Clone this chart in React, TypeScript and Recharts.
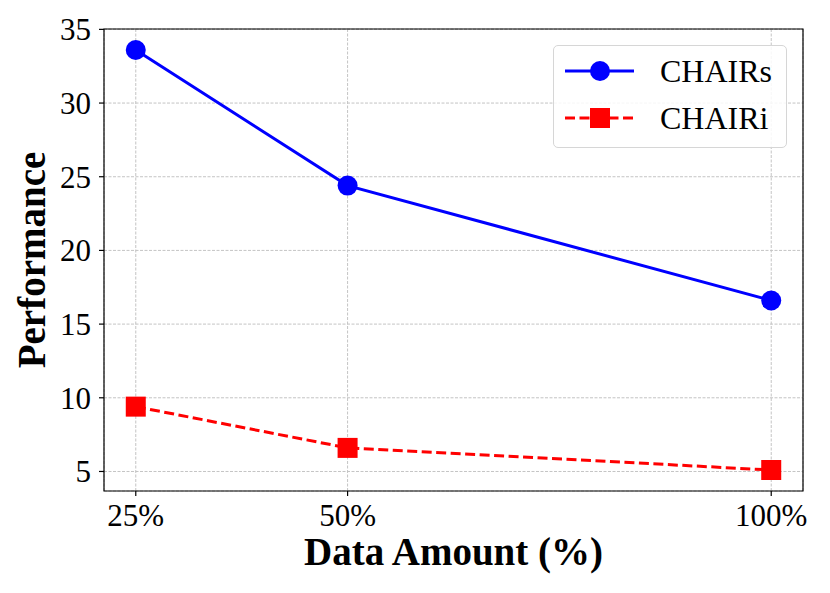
import React from 'react';
import {
  LineChart,
  Line,
  XAxis,
  YAxis,
  CartesianGrid,
  ReferenceArea,
  Label,
} from 'recharts';

const dataAmounts = [25, 50, 100];
const chairS = [33.6, 24.4, 16.6];
const chairI = [9.4, 6.6, 5.1];
const xTicks = [25, 50, 100];
const yTicks = [5, 10, 15, 20, 25, 30, 35];

const X_DOMAIN: [number, number] = [21.25, 103.75];
const Y_DOMAIN: [number, number] = [3.675, 35.025];

const FONT = '"Liberation Serif", "Times New Roman", serif';

const data = dataAmounts.map((x, i) => ({
  x,
  chairS: chairS[i],
  chairI: chairI[i],
}));

const CircleDot = (props: any) => {
  const { cx, cy } = props;
  if (cx == null || cy == null) return null;
  return <circle cx={cx} cy={cy} r={10} fill="#0000ff" />;
};

const SquareDot = (props: any) => {
  const { cx, cy } = props;
  if (cx == null || cy == null) return null;
  return <rect x={cx - 10} y={cy - 10} width={20} height={20} fill="#ff0000" />;
};

const LegendBox = () => (
  <div
    style={{
      position: 'absolute',
      left: 553,
      top: 45,
      width: 234,
      height: 103,
      boxSizing: 'border-box',
      border: '1.5px solid #d6d6d6',
      borderRadius: 5,
      background: 'rgba(255,255,255,0.85)',
      fontFamily: FONT,
      fontSize: 32,
      color: '#000',
    }}
  >
    <svg width={234} height={103} style={{ position: 'absolute', left: 0, top: 0 }}>
      <line x1={11} x2={80} y1={25} y2={25} stroke="#0000ff" strokeWidth={3} />
      <circle cx={46} cy={25} r={10} fill="#0000ff" />
      <line x1={11} x2={80} y1={72} y2={72} stroke="#ff0000" strokeWidth={3} strokeDasharray="10 4.5" />
      <rect x={36} y={62} width={20} height={20} fill="#ff0000" />
      <text x={106} y={36} fontFamily={FONT} fontSize={32}>CHAIRs</text>
      <text x={106} y={83} fontFamily={FONT} fontSize={32}>CHAIRi</text>
    </svg>
  </div>
);

export default function App() {
  return (
    <div style={{ position: 'absolute', left: 0, top: 0, width: 830, height: 593, background: '#fff' }}>
      <LineChart
        width={830}
        height={593}
        data={data}
        margin={{ top: 29, right: 27, bottom: 22, left: 0 }}
      >
        <CartesianGrid stroke="#c4c4c4" strokeDasharray="3 1.5" strokeWidth={1} />
        <XAxis
          dataKey="x"
          type="number"
          domain={X_DOMAIN}
          ticks={xTicks}
          allowDataOverflow
          tickFormatter={(v) => `${v}%`}
          height={80}
          axisLine={false}
          tickLine={{ stroke: '#000', strokeWidth: 1.2 }}
          tickSize={5}
          tickMargin={8}
          tick={{ fill: '#000', fontSize: 31, fontFamily: FONT }}
        >
          <Label
            value="Data Amount (%)"
            position="insideBottom"
            offset={6}
            style={{ fontFamily: FONT, fontSize: 39, fontWeight: 'bold', fill: '#000' }}
          />
        </XAxis>
        <YAxis
          type="number"
          domain={Y_DOMAIN}
          ticks={yTicks}
          allowDataOverflow
          width={104}
          axisLine={false}
          tickLine={{ stroke: '#000', strokeWidth: 1.2 }}
          tickSize={5}
          tickMargin={8}
          tick={{ fill: '#000', fontSize: 31, fontFamily: FONT }}
        >
          <Label
            value="Performance"
            position="center"
            angle={-90}
            dx={-21}
            style={{ fontFamily: FONT, fontSize: 39, fontWeight: 'bold', fill: '#000', textAnchor: 'middle' }}
          />
        </YAxis>
        <Line
          type="linear"
          dataKey="chairS"
          stroke="#0000ff"
          strokeWidth={3}
          dot={<CircleDot />}
          activeDot={false}
          isAnimationActive={false}
        />
        <Line
          type="linear"
          dataKey="chairI"
          stroke="#ff0000"
          strokeWidth={3}
          strokeDasharray="10 4.5"
          dot={<SquareDot />}
          activeDot={false}
          isAnimationActive={false}
        />
        <ReferenceArea
          x1={X_DOMAIN[0]}
          x2={X_DOMAIN[1]}
          y1={Y_DOMAIN[0]}
          y2={Y_DOMAIN[1]}
          fill="none"
          fillOpacity={0}
          stroke="#000"
          strokeWidth={1.2}
          ifOverflow="visible"
        />
      </LineChart>
      <LegendBox />
    </div>
  );
}
